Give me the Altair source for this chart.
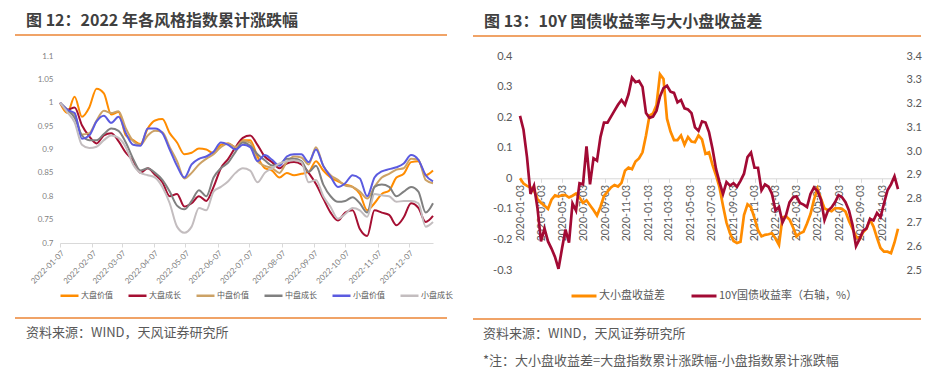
import altair as alt
import pandas as pd

# ---------------- Figure 12: 2022 style indices ----------------
style_dates = pd.date_range("2022-01-07", periods=52, freq="7D")
style_names = ["大盘价值", "大盘成长", "中盘价值", "中盘成长", "小盘价值", "小盘成长"]
style_colors = ["#FF8C00", "#A50F32", "#CCA266", "#808080", "#5B5BE0", "#C3BDBF"]

large_value = [1.0, 0.978, 1.013, 0.97, 0.99, 1.03, 1.02, 0.975, 0.98, 0.93,
               0.92, 0.912, 0.945, 0.962, 0.965, 0.935, 0.915, 0.89, 0.893, 0.902,
               0.9, 0.892, 0.91, 0.913, 0.905, 0.92, 0.92, 0.885, 0.86, 0.855,
               0.84, 0.85, 0.845, 0.848, 0.852, 0.875, 0.855, 0.84, 0.832, 0.825,
               0.82, 0.805, 0.77, 0.785, 0.805, 0.812, 0.84, 0.848, 0.873, 0.875,
               0.845, 0.855]
large_growth = [1.0, 0.985, 0.99, 0.952, 0.928, 0.913, 0.93, 0.935, 0.918, 0.893,
                0.876, 0.85, 0.86, 0.846, 0.83, 0.8, 0.805, 0.778, 0.785, 0.8,
                0.79, 0.82, 0.86, 0.88, 0.905, 0.925, 0.93, 0.91, 0.885, 0.873,
                0.86, 0.87, 0.873, 0.868, 0.85, 0.826, 0.795, 0.765, 0.748, 0.765,
                0.77, 0.73, 0.715, 0.77, 0.765, 0.76, 0.738, 0.755, 0.785, 0.775,
                0.745, 0.758]
mid_value = [1.0, 0.985, 0.975, 0.932, 0.935, 0.962, 0.983, 0.978, 0.982, 0.945,
             0.918, 0.91, 0.93, 0.94, 0.937, 0.905, 0.875, 0.838, 0.85, 0.868,
             0.88, 0.89, 0.905, 0.913, 0.905, 0.918, 0.915, 0.875, 0.865, 0.86,
             0.85, 0.873, 0.885, 0.883, 0.868, 0.905, 0.865, 0.845, 0.835, 0.823,
             0.82, 0.81, 0.795, 0.82, 0.84, 0.848, 0.857, 0.86, 0.88, 0.878,
             0.835, 0.828]
mid_growth = [1.0, 0.985, 0.968, 0.93, 0.92, 0.92, 0.933, 0.945, 0.94, 0.915,
              0.88, 0.855, 0.86, 0.85, 0.835, 0.81, 0.78, 0.772, 0.79, 0.813,
              0.8, 0.84, 0.86, 0.872, 0.895, 0.915, 0.908, 0.89, 0.877, 0.866,
              0.868, 0.88, 0.88, 0.875, 0.852, 0.865, 0.825, 0.8, 0.788, 0.79,
              0.798, 0.785, 0.765, 0.82, 0.825, 0.82, 0.8, 0.81, 0.82, 0.81,
              0.765, 0.785]
small_value = [1.0, 0.985, 0.978, 0.923, 0.93, 0.96, 0.972, 0.957, 0.97, 0.935,
               0.91, 0.908, 0.945, 0.945, 0.935, 0.9, 0.865, 0.84, 0.868, 0.88,
               0.885, 0.895, 0.915, 0.91, 0.9, 0.91, 0.905, 0.875, 0.888, 0.878,
               0.865, 0.885, 0.89, 0.89, 0.873, 0.9, 0.865, 0.842, 0.82, 0.828,
               0.845, 0.838, 0.8, 0.84, 0.853, 0.858, 0.862, 0.87, 0.888, 0.878,
               0.845, 0.832]
small_growth = [1.0, 0.98, 0.958, 0.91, 0.903, 0.906, 0.92, 0.93, 0.925, 0.905,
                0.868, 0.85, 0.845, 0.84, 0.82, 0.785, 0.735, 0.722, 0.735, 0.775,
                0.77, 0.81, 0.82, 0.832, 0.85, 0.86, 0.855, 0.83, 0.85, 0.86,
                0.87, 0.875, 0.877, 0.873, 0.83, 0.835, 0.8, 0.777, 0.752, 0.762,
                0.775, 0.77, 0.756, 0.805, 0.802, 0.8, 0.788, 0.79, 0.79, 0.785,
                0.735, 0.745]
style_ticks = list(range(1, 13))  # month ticks on the 7th
style_yticks = [0.7, 0.75, 0.8, 0.85, 0.9, 0.95, 1.0, 1.05, 1.1]

# ---------------- Figure 13: 10Y yield vs size spread ----------------
spread_dates = pd.date_range("2020-01-03", periods=109, freq="10D")
spread_names = ["大小盘收益差", "10Y国债收益率（右轴，%）"]
spread_colors = ["#FF8C00", "#A20A34"]
size_spread = [0, -0.017, -0.025, -0.03, -0.04, -0.068, -0.08, -0.09, -0.1, -0.07,
               -0.056, -0.06, -0.055, -0.055, -0.063, -0.057, -0.05, -0.063, -0.08, -0.072,
               -0.088, -0.104, -0.122, -0.093, -0.058, -0.044, -0.03, -0.022, -0.027, -0.015,
               0.025, 0.035, 0.03, 0.055, 0.065, 0.085, 0.14, 0.205, 0.212, 0.24,
               0.34, 0.325, 0.195, 0.153, 0.125, 0.125, 0.14, 0.11, 0.135, 0.12,
               0.118, 0.14, 0.127, 0.08, 0.085, 0.044, 0.01, -0.03, -0.09, -0.145,
               -0.18, -0.205, -0.212, -0.208, -0.12, -0.085, -0.095, -0.13, -0.17, -0.19,
               -0.185, -0.183, -0.18, -0.197, -0.218, -0.128, -0.124, -0.135, -0.16, -0.19,
               -0.18, -0.175, -0.148, -0.117, -0.07, -0.034, -0.067, -0.099, -0.104, -0.108,
               -0.098, -0.098, -0.1, -0.109, -0.14, -0.165, -0.19, -0.2, -0.177, -0.165,
               -0.135, -0.158, -0.195, -0.228, -0.24, -0.24, -0.245, -0.21, -0.165]
yield_10y = [3.148, 3.09, 2.975, 2.82, 2.855, 2.76, 2.62, 2.675, 2.62, 2.59,
             2.555, 2.505, 2.59, 2.67, 2.615, 2.78, 2.75, 2.865, 2.86, 3.02,
             2.86, 2.97, 2.96, 3.06, 3.12, 3.12, 3.145, 3.17, 3.195, 3.215,
             3.195, 3.239, 3.309, 3.29, 3.295, 3.27, 3.16, 3.14, 3.145, 3.17,
             3.23, 3.265, 3.275, 3.25, 3.245, 3.205, 3.215, 3.18, 3.175, 3.16,
             3.1, 3.085, 3.125, 3.12, 3.08, 3.01, 2.925, 2.87, 2.82, 2.87,
             2.855, 2.865, 2.85, 2.875, 2.905, 2.975, 2.994, 2.93, 2.93, 2.835,
             2.86, 2.85, 2.82, 2.75, 2.765, 2.7, 2.73, 2.785, 2.805, 2.81,
             2.782, 2.775, 2.765, 2.82, 2.847, 2.832, 2.795, 2.71, 2.75, 2.763,
             2.785, 2.815, 2.806, 2.785, 2.75, 2.69, 2.6, 2.63, 2.665, 2.675,
             2.715, 2.708, 2.74, 2.722, 2.78, 2.835, 2.86, 2.894, 2.84]
spread_yticks = [-0.3, -0.2, -0.1, 0, 0.1, 0.2, 0.3, 0.4]
yield_yticks = [2.5, 2.6, 2.7, 2.8, 2.9, 3.0, 3.1, 3.2, 3.3, 3.4]

# ---------------- texts ----------------
title_left = "图 12：2022 年各风格指数累计涨跌幅"
title_right = "图 13：10Y 国债收益率与大小盘收益差"
source_text = "资料来源：WIND，天风证券研究所"
note_text = "*注：大小盘收益差=大盘指数累计涨跌幅-小盘指数累计涨跌幅"

CJK = "Noto Sans CJK SC"
NUM = "Lato"
ORANGE_RULE = "#EB8434"
TEXT_GRAY = "#595959"

# ---------------- data frames ----------------
style_series = [large_value, large_growth, mid_value, mid_growth, small_value, small_growth]
rows = []
for name, vals in zip(style_names, style_series):
    for d, v in zip(style_dates, vals):
        rows.append({"date": d, "value": v, "series": name})
df_left = pd.DataFrame(rows)

df_spread = pd.DataFrame({"date": spread_dates, "value": size_spread, "series": spread_names[0]})
df_yield = pd.DataFrame({"date": spread_dates, "value": yield_10y, "series": spread_names[1]})
one = pd.DataFrame({"k": [0]})


def deco_text(txt, x, y, size, weight="normal", color=TEXT_GRAY):
    return alt.Chart(one).mark_text(
        text=txt, align="left", baseline="middle", font=CJK, fontSize=size,
        fontWeight=weight, color=color
    ).encode(x=alt.value(x), y=alt.value(y))


def deco_rule(x1, x2, y):
    return alt.Chart(one).mark_rule(color=ORANGE_RULE, strokeWidth=1.5).encode(
        x=alt.value(x1), x2=alt.value(x2), y=alt.value(y))


def bg(x1, x2, y1, y2):
    # invisible frame that fixes the panel's extent
    return alt.Chart(one).mark_rect(fill="white", opacity=0).encode(
        x=alt.value(x1), x2=alt.value(x2), y=alt.value(y1), y2=alt.value(y2))


# ---------------- left panel ----------------
LW, LH = 373, 187
left_lines = alt.Chart(df_left).mark_line(interpolate="monotone", strokeWidth=2).encode(
    x=alt.X("date:T",
            scale=alt.Scale(domain=[alt.DateTime(year=2022, month=1, date=7),
                                    alt.DateTime(year=2022, month=12, date=30)]),
            axis=alt.Axis(values=[alt.DateTime(year=2022, month=m, date=7) for m in style_ticks],
                          format="%Y-%m-%d", labelAngle=-45, labelFontSize=8, labelFont=NUM,
                          labelColor="#7F7F7F", domainColor="#D9D9D9", tickColor="#D9D9D9",
                          tickSize=4, grid=False, title=None, labelPadding=2,
                          labelOverlap=False)),
    y=alt.Y("value:Q", scale=alt.Scale(domain=[0.7, 1.1], nice=False, zero=False),
            axis=alt.Axis(values=style_yticks, labelExpr="'' + round(datum.value*100)/100",
                          labelFontSize=8, labelFont=NUM, labelColor="#7F7F7F",
                          domain=False, ticks=False, grid=False, title=None, labelPadding=7)),
    color=alt.Color("series:N", scale=alt.Scale(domain=style_names, range=style_colors),
                    legend=alt.Legend(orient="none", legendX=-1, legendY=229, direction="horizontal",
                                      title=None, symbolType="stroke", symbolSize=324,
                                      symbolStrokeWidth=2.5, labelFontSize=8, labelFont=CJK,
                                      labelColor=TEXT_GRAY, labelOffset=1, columnPadding=10,
                                      padding=0)),
)

left = alt.layer(
    bg(-52, 410, -48, 314),
    left_lines,
    deco_text(title_left, -34, -35, 16, "bold", "#404040"),
    deco_rule(-45, 387, -21),
    deco_rule(-45, 387, 262),
    deco_text(source_text, -34, 277, 13),
).properties(width=LW, height=LH)

# ---------------- right panel ----------------
RW, RH = 378, 214
zero_offset = -RH * 0.3 / 0.7

x_right = alt.X("date:T",
                scale=alt.Scale(domain=[alt.DateTime(year=2020, month=1, date=3),
                                        alt.DateTime(year=2022, month=12, date=18)]),
                axis=alt.Axis(values=[alt.DateTime(year=y, month=m, date=3)
                                      for y in (2020, 2021, 2022) for m in (1, 3, 5, 7, 9, 11)],
                              format="%Y-%m-%d", labelAngle=-90, labelFontSize=10.5, labelFont=NUM,
                              labelColor=TEXT_GRAY, domainColor="#D9D9D9", tickColor="#D9D9D9",
                              tickSize=4, grid=False, title=None, offset=zero_offset,
                              labelPadding=2, labelOverlap=False, labelSeparation=0))

color_right = alt.Color("series:N", scale=alt.Scale(domain=spread_names, range=spread_colors),
                        legend=alt.Legend(orient="none", legendX=50, legendY=226,
                                          direction="horizontal", title=None, symbolType="stroke",
                                          symbolSize=625, symbolStrokeWidth=3, labelFontSize=11,
                                          labelFont=CJK, labelColor=TEXT_GRAY, labelOffset=1,
                                          columnPadding=20, padding=0))

spread_line = alt.Chart(df_spread).mark_line(strokeWidth=2.7).encode(
    x=x_right,
    y=alt.Y("value:Q", scale=alt.Scale(domain=[-0.3, 0.4], nice=False, zero=False),
            axis=alt.Axis(values=spread_yticks, labelExpr="'' + round(datum.value*10)/10",
                          labelFontSize=11, labelFont=NUM, labelColor=TEXT_GRAY, domain=False,
                          ticks=False, grid=False, title=None, labelPadding=8, orient="left")),
    color=color_right,
)

yield_line = alt.Chart(df_yield).mark_line(strokeWidth=2.7).encode(
    x=x_right,
    y=alt.Y("value:Q", scale=alt.Scale(domain=[2.5, 3.4], nice=False, zero=False),
            axis=alt.Axis(values=yield_yticks, format=".1f", labelFontSize=11, labelFont=NUM,
                          labelColor=TEXT_GRAY, domain=False, ticks=False, grid=False,
                          title=None, labelPadding=8, orient="right")),
    color=color_right,
)

right = alt.layer(
    bg(-50, 409, -47, 315),
    spread_line,
    yield_line,
    deco_text(title_right, -36, -34, 16, "bold", "#404040"),
    deco_rule(-47, 401, -20),
    deco_rule(-47, 401, 263),
    deco_text(source_text, -37, 278, 13),
    deco_text(note_text, -37, 305, 13),
).resolve_scale(y="independent").properties(width=RW, height=RH)

chart = alt.hconcat(left, right, spacing=0).resolve_scale(
    color="independent", x="independent", y="independent"
).properties(padding=0, background="white").configure_view(stroke=None)

chart.save("out.html", embed_options={"renderer": "svg", "actions": False})
